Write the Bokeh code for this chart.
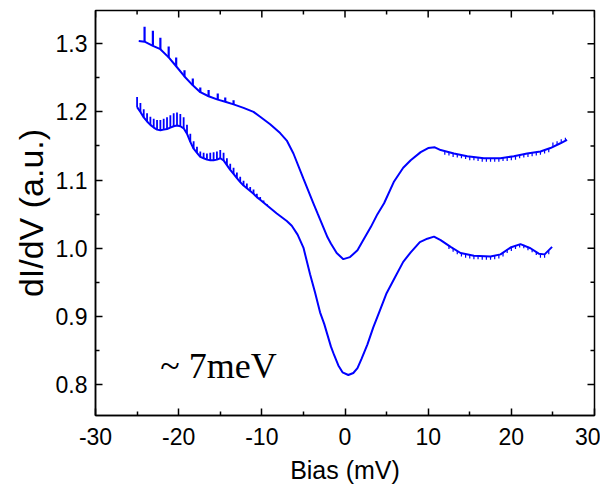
import math
from bokeh.plotting import figure
from bokeh.models import Range1d, FixedTicker, Label, Title
from bokeh.embed import file_html
from bokeh.resources import INLINE

# ---- data ----
upper_bias = [-24.8, -24.1, -23.1, -22.2, -21.2, -20.3, -19.3, -18.3, -17.4, -16.4, -15.3, -14.4,
              -13.4, -12.2, -11.0, -10.2, -9.0, -7.8, -7.0, -6.2, -5.0, -3.8, -3.3, -2.1, -1.7,
              -1.0, -0.2, 0.6, 1.5, 2.2, 3.1, 3.9, 4.7, 5.9, 7.0, 7.9, 9.1, 10.0, 10.8, 11.5,
              13.1, 14.7, 16.7, 18.7, 20.3, 21.9, 23.5, 24.7, 25.9, 26.7]
upper_didv = [1.304, 1.303, 1.297, 1.292, 1.280, 1.267, 1.252, 1.239, 1.229, 1.223, 1.218, 1.215,
              1.211, 1.206, 1.200, 1.193, 1.182, 1.169, 1.158, 1.139, 1.102, 1.066, 1.051, 1.016, 1.007,
              0.993, 0.984, 0.987, 0.997, 1.012, 1.031, 1.050, 1.066, 1.098, 1.118, 1.129, 1.141, 1.147, 1.148, 1.144,
              1.139, 1.135, 1.132, 1.132, 1.135, 1.139, 1.142, 1.147, 1.154, 1.159]

upper_spike_bias = [-24.1, -23.1, -22.2, -21.2, -20.3, -19.3, -18.3, -17.4, -16.4, -15.3, -14.4, -13.4]
upper_spike_base = [1.303, 1.297, 1.292, 1.280, 1.267, 1.252, 1.239, 1.229, 1.223, 1.218, 1.215, 1.211]
upper_spike_top = [1.325, 1.319, 1.309, 1.296, 1.280, 1.261, 1.249, 1.236, 1.232, 1.227, 1.221, 1.217]

upper_tick_bias = [12.0, 12.5, 13.0, 13.5, 14.0, 14.5, 15.0, 15.5, 16.0, 16.5, 17.0, 17.5, 18.0,
                   18.5, 19.0, 19.5, 20.0, 20.5, 21.0, 21.5, 22.0, 22.5, 23.0, 23.5, 24.0, 24.5,
                   25.0, 25.5, 26.0, 26.5]
upper_tick_y0 = [1.142, 1.141, 1.139, 1.138, 1.137, 1.136, 1.134, 1.134, 1.133, 1.132, 1.132, 1.132, 1.132,
                 1.132, 1.133, 1.133, 1.134, 1.135, 1.137, 1.138, 1.139, 1.140, 1.141, 1.142, 1.144, 1.146,
                 1.150, 1.152, 1.155, 1.158]
upper_tick_y1 = [1.137, 1.136, 1.134, 1.133, 1.132, 1.131, 1.129, 1.129, 1.128, 1.127, 1.127, 1.127, 1.127,
                 1.127, 1.128, 1.128, 1.129, 1.130, 1.132, 1.133, 1.134, 1.135, 1.136, 1.137, 1.139, 1.141,
                 1.155, 1.157, 1.160, 1.162]

lower_bias = [-25.0, -24.6, -24.2, -23.8, -23.4, -23.0, -22.6, -22.2, -21.8, -21.4, -21.0, -20.6,
              -20.2, -19.8, -19.4, -19.0, -18.6, -18.2, -17.8, -17.4, -17.0, -16.6, -16.2, -15.8,
              -15.4, -15.0, -14.6, -14.2, -13.8, -13.4, -13.0, -12.6, -12.2, -11.8, -11.4, -11.0,
              -10.6, -10.2, -9.8, -9.4, -8.2, -7.0, -6.4, -5.7, -5.0, -4.2, -3.6, -3.0, -2.5, -1.7, -1.3,
              -0.8, -0.3, 0.4, 1.0, 1.5, 2.0, 2.7, 3.4, 4.2, 5.0, 6.0, 7.0, 7.9, 9.0, 9.9, 10.7,
              11.5, 12.7, 13.9, 15.5, 17.5, 18.7, 19.9, 21.1, 22.3, 23.3, 24.0, 24.9]
lower_didv = [1.207, 1.200, 1.192, 1.186, 1.181, 1.177, 1.174, 1.173, 1.174, 1.175, 1.177, 1.179,
              1.180, 1.179, 1.176, 1.168, 1.156, 1.146, 1.140, 1.134, 1.132, 1.130, 1.129, 1.129,
              1.130, 1.132, 1.129, 1.122, 1.115, 1.109, 1.103, 1.097, 1.092, 1.088, 1.084, 1.080,
              1.075, 1.071, 1.067, 1.063, 1.051, 1.040, 1.033, 1.020, 1.001, 0.962, 0.935, 0.906, 0.889, 0.856, 0.843,
              0.828, 0.818, 0.814, 0.817, 0.824, 0.838, 0.859, 0.884, 0.909, 0.934, 0.957, 0.980, 0.994, 1.009, 1.014, 1.017,
              1.012, 1.002, 0.993, 0.989, 0.988, 0.991, 1.001, 1.006, 1.000, 0.992, 0.991, 1.002]

comb_bias = [-25.0, -24.6, -24.2, -23.8, -23.4, -23.0, -22.6, -22.2, -21.8, -21.4, -21.0, -20.6,
             -20.2, -19.8, -19.4, -19.0, -18.6, -18.2, -17.8, -17.4, -17.0, -16.6, -16.2, -15.8,
             -15.4, -15.0, -14.6, -14.2, -13.8, -13.4, -13.0, -12.6, -12.2, -11.8, -11.4, -11.0,
             -10.6, -10.2, -9.8, -9.4]
comb_base = [1.207, 1.200, 1.192, 1.186, 1.181, 1.177, 1.174, 1.173, 1.174, 1.175, 1.177, 1.179,
             1.180, 1.179, 1.176, 1.168, 1.156, 1.146, 1.140, 1.134, 1.132, 1.130, 1.129, 1.129,
             1.130, 1.132, 1.129, 1.122, 1.115, 1.109, 1.103, 1.097, 1.092, 1.088, 1.084, 1.080,
             1.075, 1.071, 1.067, 1.063]
comb_top = [1.222, 1.213, 1.204, 1.198, 1.193, 1.190, 1.188, 1.188, 1.190, 1.192, 1.195, 1.198,
            1.199, 1.197, 1.192, 1.181, 1.168, 1.157, 1.149, 1.142, 1.140, 1.139, 1.140, 1.141,
            1.142, 1.144, 1.140, 1.132, 1.124, 1.118, 1.111, 1.105, 1.099, 1.095, 1.090, 1.086,
            1.080, 1.075, 1.070, 1.065]

lower_tick_bias = [12.5, 13.0, 13.5, 14.0, 14.5, 15.0, 15.5, 16.0, 16.5, 17.0, 17.5, 18.0, 18.5,
                   19.0, 19.5, 20.0, 20.5, 21.0, 21.5, 22.0, 22.5, 23.0, 23.5, 24.0, 24.5]
lower_tick_y0 = [1.004, 1.000, 0.996, 0.993, 0.991, 0.990, 0.989, 0.989, 0.988, 0.988, 0.988, 0.989, 0.990,
                 0.993, 0.998, 1.001, 1.004, 1.006, 1.005, 1.002, 0.999, 0.995, 0.991, 0.991, 0.996]
lower_tick_y1 = [0.999, 0.995, 0.991, 0.988, 0.986, 0.985, 0.984, 0.984, 0.983, 0.983, 0.983, 0.984, 0.985,
                 0.988, 0.993, 0.996, 0.999, 1.001, 1.000, 0.997, 0.994, 0.990, 0.986, 0.986, 0.991]

x_major = [-30, -20, -10, 0, 10, 20, 30]
x_major_labels = ["-30", "-20", "-10", "0", "10", "20", "30"]
x_minor = [-25, -15, -5, 5, 15, 25]
y_major = [0.8, 0.9, 1.0, 1.1, 1.2, 1.3]
y_major_labels = ["0.8", "0.9", "1.0", "1.1", "1.2", "1.3"]
y_minor = [0.75, 0.85, 0.95, 1.05, 1.15, 1.25, 1.35]

X_MIN, X_MAX = -30, 30
Y_MIN, Y_MAX = 0.7546, 1.3488

BLUE = "#0000FF"
FONT = "Liberation Sans"

p = figure(width=600, height=486, output_backend="svg", toolbar_location=None,
           x_range=Range1d(X_MIN, X_MAX), y_range=Range1d(Y_MIN, Y_MAX),
           x_axis_label="Bias (mV)",
           min_border_left=95, min_border_right=6, min_border_top=10, min_border_bottom=70)
p.background_fill_color = "white"
p.border_fill_color = "white"
p.grid.visible = False
p.outline_line_color = "black"
p.outline_line_width = 1.5

# curves
p.line(upper_bias, upper_didv, line_color=BLUE, line_width=2)
p.segment(x0=upper_spike_bias, y0=upper_spike_base, x1=upper_spike_bias, y1=upper_spike_top,
          line_color=BLUE, line_width=2.2)
p.segment(x0=upper_tick_bias, y0=upper_tick_y0, x1=upper_tick_bias, y1=upper_tick_y1,
          line_color=BLUE, line_width=1.2)
p.line(lower_bias, lower_didv, line_color=BLUE, line_width=2)
p.segment(x0=comb_bias, y0=comb_base, x1=comb_bias, y1=comb_top,
          line_color=BLUE, line_width=1.8)
p.segment(x0=lower_tick_bias, y0=lower_tick_y0, x1=lower_tick_bias, y1=lower_tick_y1,
          line_color=BLUE, line_width=1.2)

p.add_layout(Label(x=-22.2, y=0.8275, text="~ 7meV", text_font="Liberation Serif",
                   text_font_size="36px", text_color="black", text_baseline="alphabetic"))

def style(ax, major, labels, minor):
    ax.ticker = FixedTicker(ticks=major, minor_ticks=minor)
    ax.major_label_overrides = {t: s for t, s in zip(major, labels)}
    ax.axis_line_color = "black"
    ax.axis_line_width = 1.5
    ax.major_tick_line_color = "black"
    ax.minor_tick_line_color = "black"
    ax.major_tick_line_width = 1.5
    ax.minor_tick_line_width = 1.5
    ax.major_tick_in = 7
    ax.major_tick_out = 0
    ax.minor_tick_in = 4
    ax.minor_tick_out = 0
    ax.major_label_text_font = FONT
    ax.major_label_text_font_size = "23px"
    ax.major_label_text_color = "black"

style(p.xaxis[0], x_major, x_major_labels, x_minor)
p.xaxis[0].major_label_standoff = 12
p.xaxis[0].axis_label_text_font = FONT
p.xaxis[0].axis_label_text_font_size = "25px"
p.xaxis[0].axis_label_text_font_style = "normal"
p.xaxis[0].axis_label_text_color = "black"
p.xaxis[0].axis_label_standoff = 8
style(p.yaxis[0], y_major, y_major_labels, y_minor)
p.yaxis[0].major_label_standoff = 8

# y-axis title, shifted down as in the reference
p.add_layout(Title(text="dI/dV (a.u.)", text_font=FONT, text_font_size="34px",
                   text_font_style="normal", text_color="black", align="center",
                   offset=-39, standoff=6), "left")

# ticks on the right and top frame edges (pointing inward)
p.ray(x=[X_MAX] * len(y_major), y=y_major, length=7, length_units="screen", angle=math.pi,
      line_color="black", line_width=1.5)
p.ray(x=[X_MAX] * len(y_minor), y=y_minor, length=4, length_units="screen", angle=math.pi,
      line_color="black", line_width=1.5)
p.ray(x=x_major, y=[Y_MAX] * len(x_major), length=7, length_units="screen", angle=-math.pi / 2,
      line_color="black", line_width=1.5)
p.ray(x=x_minor, y=[Y_MAX] * len(x_minor), length=4, length_units="screen", angle=-math.pi / 2,
      line_color="black", line_width=1.5)

open("out.html", "w").write(file_html(p, INLINE))
